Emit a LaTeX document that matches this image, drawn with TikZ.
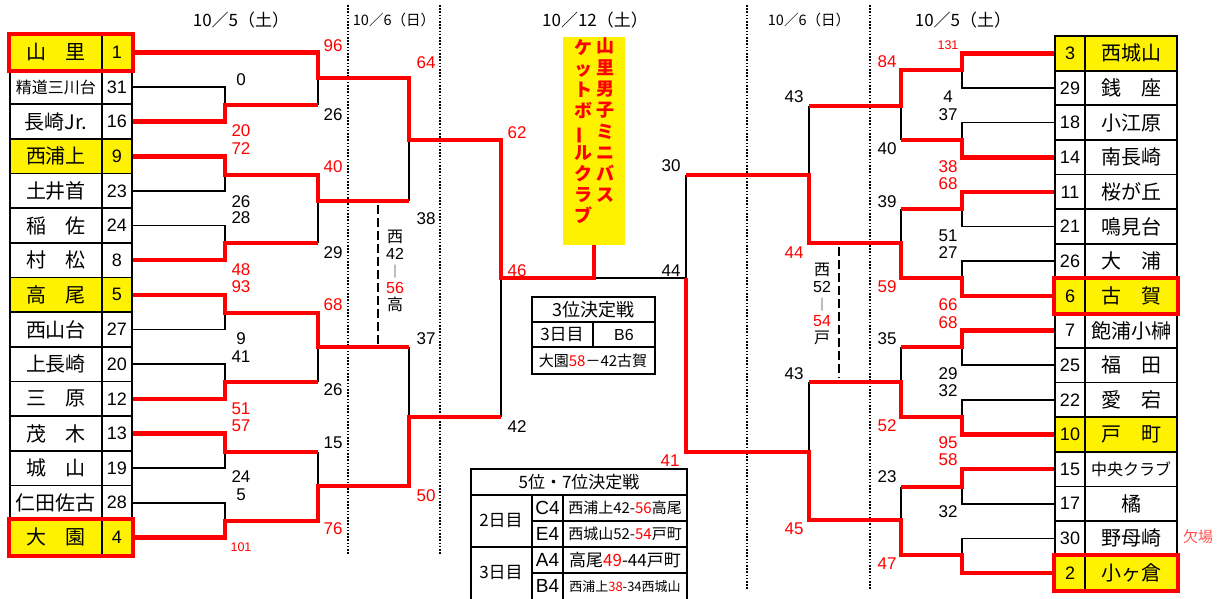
\documentclass[tikz,border=0pt]{standalone}
\usepackage{fontspec}
\setmainfont{Noto Sans CJK JP}
\newfontfamily\arial{Liberation Sans}
\newcommand\fsz[1]{\fontsize{#1}{#1}\selectfont}
\definecolor{absent}{RGB}{255,80,80}

\begin{document}
\begin{tikzpicture}[x=1pt, y=-1pt,
    win/.style={red, line width=4.5pt},
    lose/.style={black, line width=1.6pt},
    guide/.style={line width=1.6pt, dash pattern=on 1.6pt off 1.6pt},
    dashmark/.style={line width=1.6pt, dash pattern=on 9pt off 4pt},
    cell/.style={draw, line width=1.8pt, inner sep=0pt, minimum height=34.65pt},
    namecell/.style={cell, minimum width=92pt, font=\fsz{20}},
    numcell/.style={cell, minimum width=30pt, font=\arial\fsz{18}},
    score/.style={inner sep=0pt, font=\arial\fsz{17}},
    redscore/.style={score, text=red},
    tinyscore/.style={inner sep=0pt, text=red, font=\arial\fsz{12.5}},
    day/.style={inner sep=0pt, font=\fsz{17}},
    champtext/.style={inner sep=0pt, text=red, font=\fsz{18}\bfseries, text height=.88em, text depth=.12em},
    boxline/.style={line width=1.8pt}
]
\useasboundingbox (0,0) rectangle (1219,598);
\clip (0,0) rectangle (1219,598);

% Dates
\node[day] (d1) at (241,20) {10／5（土）};
\node[day, font=\fsz{14.5}] (d2) at (394,20) {10／6（日）};
\node[day] (d3) at (595,20) {10／12（土）};
\node[day, font=\fsz{14.5}] (d4) at (809,20) {10／6（日）};
\node[day] (d5) at (963,20) {10／5（土）};

% Day separators
\draw[guide] (348,5) -- (348,555) (440,5) -- (440,555);
\draw[guide] (747,5) -- (747,590) (870,5) -- (870,590);

% Left table
\foreach \nm/\num/\fc [count=\k] in {山　里/1/yellow, \fsz{16}精道三川台/31/white, 長崎Jr./16/white,
    西浦上/9/yellow, 土井首/23/white, 稲　佐/24/white, 村　松/8/white, 高　尾/5/yellow,
    西山台/27/white, 上長崎/20/white, 三　原/12/white, 茂　木/13/white, 城　山/19/white,
    仁田佐古/28/white, 大　園/4/yellow} {
    \pgfmathsetmacro{\yc}{52.3+34.65*(\k-1)}
    \node[namecell, fill=\fc] (lt\k) at (56,\yc) {\nm};
    \node[numcell, fill=\fc] (ln\k) at (117,\yc) {\num};
}

% Right table
\foreach \num/\nm/\fc [count=\k] in {3/西城山/yellow, 29/銭　座/white, 18/小江原/white, 14/南長崎/white,
    11/桜が丘/white, 21/鳴見台/white, 26/大　浦/white, 6/古　賀/yellow, 7/飽浦小榊/white,
    25/福　田/white, 22/愛　宕/white, 10/戸　町/yellow, 15/\fsz{16}中央クラブ/white,
    17/橘/white, 30/野母崎/white, 2/小ヶ倉/yellow} {
    \pgfmathsetmacro{\yc}{53.3+34.65*(\k-1)}
    \node[numcell, fill=\fc] (rn\k) at (1070,\yc) {\num};
    \node[namecell, fill=\fc] (rt\k) at (1131,\yc) {\nm};
}

% Champion
\node[fill=yellow, inner sep=0pt, minimum width=62pt, minimum height=208pt] (champ) at (594,141) {};
\foreach \c [count=\i] in {山,里,男,子,ミ,ニ,バ,ス}
    \node[champtext] (ca\i) at (605,{49+21.3*(\i-1)}) {\c};
\foreach \c/\r [count=\i] in {ケ/0,ッ/0,ト/0,ボ/0,ー/90,ル/0,ク/0,ラ/0,ブ/0}
    \node[champtext, rotate=\r] (cb\i) at (583,{51+21*(\i-1)}) {\c};

% Left bracket, losers
\draw[lose] (ln2.east) -| (225,105);
\draw[lose] (318,105) -- (318,78);
\draw[lose] (ln5.east) -| (225,175);
\draw[lose] (ln6.east) -| (225,243);
\draw[lose] (318,243) -- (318,201);
\draw[lose] (409,201) -- (409,140);
\draw[lose] (ln9.east) -| (225,313);
\draw[lose] (ln10.east) -| (225,382);
\draw[lose] (318,382) -- (318,347);
\draw[lose] (ln13.east) -| (225,452);
\draw[lose] (318,452) -- (318,486);
\draw[lose] (ln14.east) -| (225,521);
\draw[lose] (409,347) -- (409,417);
\draw[lose] (501,417) -- (501,278);
\draw[lose] (593,278) -- (686,278);

% Right bracket, losers
\draw[lose] (rn2.west) -| (962,70);
\draw[lose] (rn3.west) -| (962,140);
\draw[lose] (901,140) -- (901,106);
\draw[lose] (809,106) -- (809,175);
\draw[lose] (901,209) -- (901,243);
\draw[lose] (rn6.west) -| (962,209);
\draw[lose] (rn7.west) -| (962,278);
\draw[lose] (686,175) -- (686,278);
\draw[lose] (901,347) -- (901,382);
\draw[lose] (rn10.west) -| (962,347);
\draw[lose] (rn11.west) -| (962,417);
\draw[lose] (809,382) -- (809,452);
\draw[lose] (901,487) -- (901,520);
\draw[lose] (rn14.west) -| (962,487);
\draw[lose] (rn15.west) -| (962,555);

% Left bracket, winners
\draw[win] (ln1.east) -| (318,78) -| (409,140) -| (501,278) -| (champ.south);
\draw[win] (ln3.east) -| (225,105) -- (318,105);
\draw[win] (ln4.east) -| (225,175) -| (318,201) -- (409,201);
\draw[win] (ln7.east) -| (225,243) -- (318,243);
\draw[win] (ln8.east) -| (225,313) -| (318,347) -- (409,347);
\draw[win] (ln11.east) -| (225,382) -- (318,382);
\draw[win] (ln12.east) -| (225,452) -- (318,452);
\draw[win] (ln15.east) -| (225,521) -| (318,486) -| (409,417) -- (501,417);

% Right bracket, winners
\draw[win] (rn1.west) -| (962,70) -| (901,106) -- (809,106);
\draw[win] (rn4.west) -| (962,140) -- (901,140);
\draw[win] (rn5.west) -| (962,209) -- (901,209);
\draw[win] (rn8.west) -| (962,278) -| (901,243) -| (809,175) -- (686,175);
\draw[win] (rn9.west) -| (962,347) -- (901,347);
\draw[win] (rn12.west) -| (962,417) -| (901,382) -- (809,382);
\draw[win] (rn13.west) -| (962,487) -- (901,487);
\draw[win] (rn16.west) -| (962,555) -| (901,520) -| (809,452) -| (686,278);

% Top four
\foreach \a/\b in {lt1/ln1, lt15/ln15, rn8/rt8, rn16/rt16}
    \draw[win, line width=4pt] (\a.north west) rectangle (\b.south east);

% Left scores
\foreach \y/\s [count=\i] in {80/0, 202/26, 218/28, 339/9, 357/41, 477/24, 495/5}
    \node[score] (la\i) at (241,\y) {\s};
\foreach \y/\s [count=\i] in {131/20, 149/72, 270/48, 287/93, 409/51, 426/57}
    \node[redscore] (lb\i) at (241,\y) {\s};
\node[tinyscore] (lc1) at (241,547) {101};
\foreach \y/\s [count=\i] in {115/26, 253/29, 390/26, 443/15}
    \node[score] (ld\i) at (333,\y) {\s};
\foreach \y/\s [count=\i] in {46/96, 167/40, 305/68, 529/76}
    \node[redscore] (le\i) at (333,\y) {\s};
\node[redscore] (lf1) at (426,63) {64};
\node[score] (lf2) at (426,219) {38};
\node[score] (lf3) at (426,339) {37};
\node[redscore] (lf4) at (426,496) {50};
\node[redscore] (lg1) at (517,133) {62};
\node[score] (lg2) at (517,427) {42};

% Final
\node[redscore] (fa) at (517,271) {46};
\node[score] (fb) at (671,271) {44};
\node[score] (fc) at (671,166) {30};
\node[redscore] (fd) at (670,461) {41};

% Right scores
\node[score] (ra1) at (794,97) {43};
\node[redscore] (ra2) at (794,253) {44};
\node[score] (ra3) at (794,374) {43};
\node[redscore] (ra4) at (794,529) {45};
\foreach \y/\s [count=\i] in {149/40, 202/39, 339/35, 477/23}
    \node[score] (rb\i) at (887,\y) {\s};
\foreach \y/\s [count=\i] in {62/84, 287/59, 426/52, 564/47}
    \node[redscore] (rc\i) at (887,\y) {\s};
\foreach \y/\s [count=\i] in {97/4, 115/37, 236/51, 253/27, 374/29, 391/32, 512/32}
    \node[score] (rd\i) at (948,\y) {\s};
\foreach \y/\s [count=\i] in {167/38, 184/68, 305/66, 323/68, 443/95, 460/58}
    \node[redscore] (re\i) at (948,\y) {\s};
\node[tinyscore] (rf1) at (948,45) {131};
\node[text=absent, inner sep=0pt, font=\fsz{15}] (absent) at (1198,537) {欠場};

% Semifinal notes
\draw[dashmark] (378,205) -- (378,345);
\node[inner sep=0pt, align=center, font=\fontsize{16}{17}\selectfont] (wl) at (395,271)
    {西\\{\arial 42}\\{\fsz{13}｜}\\\textcolor{red}{\arial 56}\\高};
\draw[dashmark] (839,247) -- (839,378);
\node[inner sep=0pt, align=center, font=\fontsize{16}{17}\selectfont] (wr) at (822,304)
    {西\\{\arial 52}\\{\fsz{13}｜}\\\textcolor{red}{\arial 54}\\戸};

% Third place
\draw[boxline] (532,297) rectangle (655,374);
\draw[boxline] (532,322) -- (655,322) (532,347) -- (655,347) (593,322) -- (593,347);
\node[font=\fsz{18}] (t3a) at (593,309.5) {3位決定戦};
\node[font=\fsz{17}] (t3b) at (562,335) {3日目};
\node[font=\arial\fsz{16}] (t3c) at (624,335) {B6};
\node[font=\fsz{15}] (t3d) at (593,361) {大園\textcolor{red}{58}－42古賀};

% Fifth and seventh place
\draw[boxline] (471,469) rectangle (687,620);
\draw[boxline] (471,495) -- (687,495) (471,547) -- (687,547) (532,521) -- (687,521)
    (532,573) -- (687,573) (532,495) -- (532,620) (563,495) -- (563,620);
\node[font=\fsz{17}] (t5a) at (579,482) {5位・7位決定戦};
\node[font=\fsz{17}] (t5b) at (501,521) {2日目};
\node[font=\fsz{17}] (t5c) at (501,573) {3日目};
\foreach \y/\s [count=\i] in {508/C4, 534/E4, 560/A4, 586/B4}
    \node[font=\arial\fsz{19}] (g\i) at (547.5,\y) {\s};
\node[font=\fsz{15}] (r1) at (625,508) {西浦上42-\textcolor{red}{56}高尾};
\node[font=\fsz{15}] (r2) at (625,534) {西城山52-\textcolor{red}{54}戸町};
\node[font=\fsz{17}] (r3) at (625,560) {高尾\textcolor{red}{49}-44戸町};
\node[font=\fsz{13}] (r4) at (625,587) {西浦上\textcolor{red}{38}-34西城山};

\end{tikzpicture}
\end{document}
